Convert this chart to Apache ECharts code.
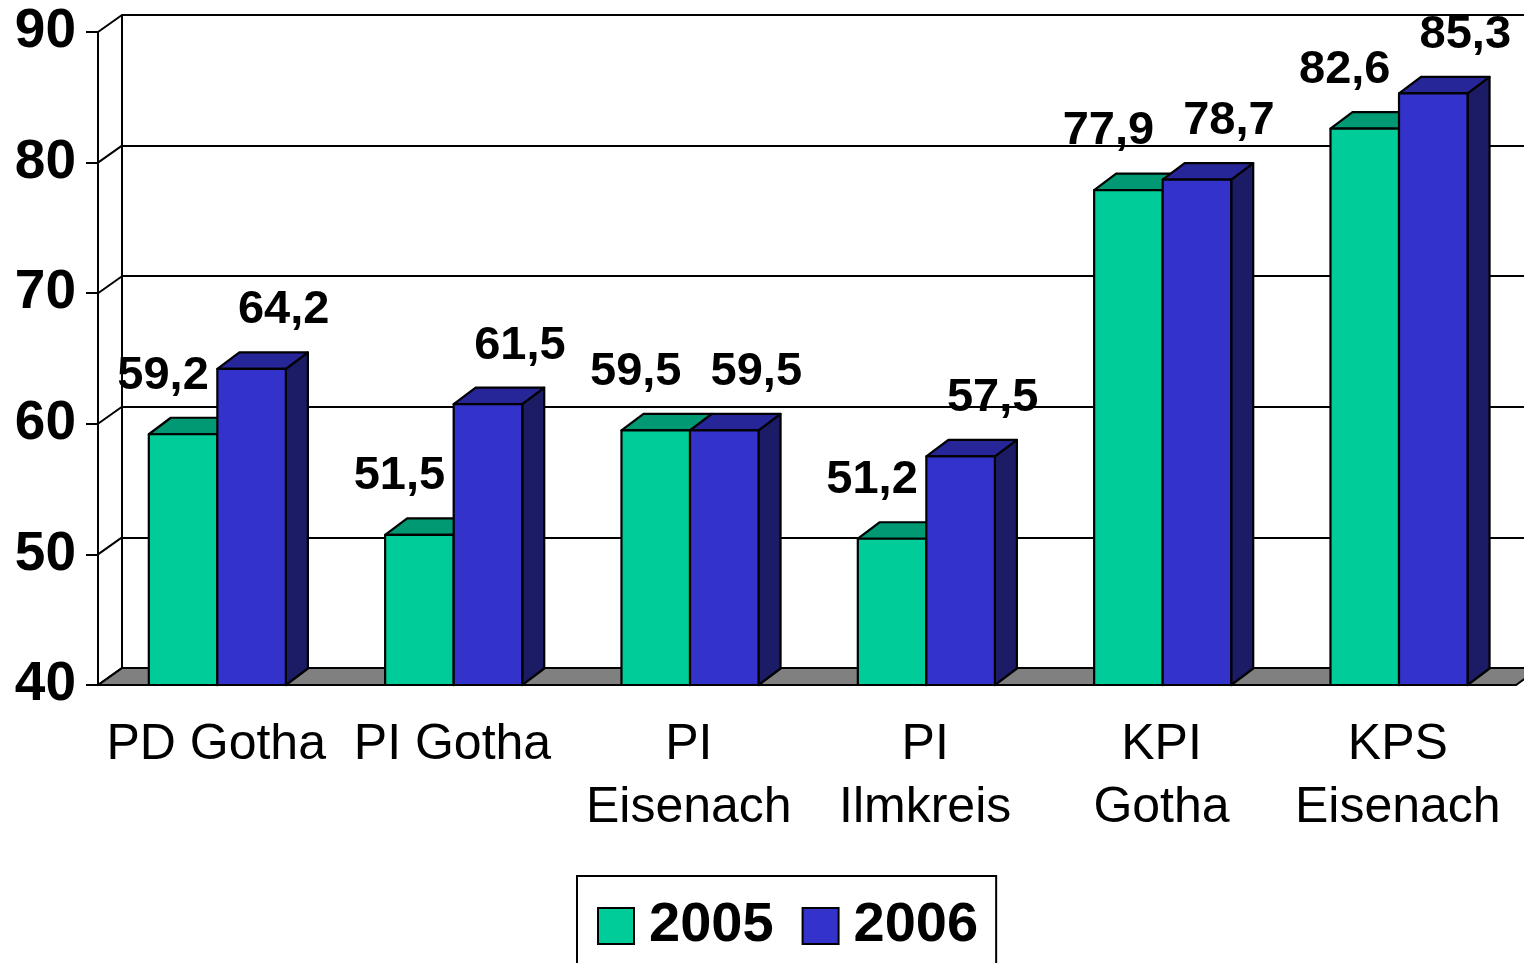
<!DOCTYPE html>
<html>
<head>
<meta charset="utf-8">
<script src="https://cdn.jsdelivr.net/npm/echarts@6/dist/echarts.min.js"></script>
<style>
    html, body { margin: 0; padding: 0; background: #fff; }
    #chart { width: 1524px; height: 963px; }
</style>
</head>
<body>
<div id="chart"></div>
<script>
// 数据
var categories = ['PD Gotha', 'PI Gotha', 'PI\nEisenach', 'PI\nIlmkreis', 'KPI\nGotha', 'KPS\nEisenach'];
var years = ['2005', '2006'];
var values2005 = [59.2, 51.5, 59.5, 51.2, 77.9, 82.6];
var values2006 = [64.2, 61.5, 59.5, 57.5, 78.7, 85.3];
var yTicks = [40, 50, 60, 70, 80, 90];

(function () {
    var FONT = '"Liberation Sans", Arial, sans-serif';
    // 3D 偏移: 墙 / 柱
    var WX = 24, WY = 17;
    var BX = 22, BY = 16.5;

    var colors = [
        { front: '#00CC99', top: '#009973', side: '#006650' },
        { front: '#3333CC', top: '#262699', side: '#1C1C66' }
    ];

    function fmt(v) {
        return v.toFixed(1).replace('.', ',');
    }

    // 地板和左墙斜线
    function renderFrame(params, api) {
        var cs = params.coordSys;
        var y = api.coord([0, api.value(0)])[1];
        var children = [];
        if (params.dataIndex === 0) {
            children.push({
                type: 'polygon',
                shape: { points: [[cs.x, y], [cs.x + cs.width, y], [cs.x + cs.width + WX, y - WY], [cs.x + WX, y - WY]] },
                style: { fill: '#808080', stroke: '#000', lineWidth: 2 }
            });
        }
        children.push({
            type: 'line',
            shape: { x1: cs.x, y1: y, x2: cs.x + WX, y2: y - WY },
            style: { stroke: '#000', lineWidth: 2 }
        });
        return { type: 'group', children: children };
    }

    // 3D 柱
    function makeBarRenderer(idx) {
        var c = colors[idx];
        return function (params, api) {
            var cat = api.value(0);
            var val = api.value(1);
            var base = api.coord([cat, 40]);
            var top = api.coord([cat, val]);
            var band = api.size([1, 0])[0];
            var w = band * 0.29;
            var x0 = base[0] - band / 2 + band * 0.215 + idx * w;
            var ty = top[1], by = base[1];
            var line = { stroke: '#000', lineWidth: 2.2, lineJoin: 'round' };
            var labelX = x0 + w / 2 + (idx === 0 ? -20 : 32);
            return {
                type: 'group',
                children: [
                    {
                        type: 'polygon',
                        shape: { points: [[x0 + w, ty], [x0 + w + BX, ty - BY], [x0 + w + BX, by - BY], [x0 + w, by]] },
                        style: Object.assign({ fill: c.side }, line)
                    },
                    {
                        type: 'polygon',
                        shape: { points: [[x0, ty], [x0 + w, ty], [x0 + w + BX, ty - BY], [x0 + BX, ty - BY]] },
                        style: Object.assign({ fill: c.top }, line)
                    },
                    {
                        type: 'rect',
                        shape: { x: x0, y: ty, width: w, height: by - ty },
                        style: Object.assign({ fill: c.front }, line)
                    },
                    {
                        type: 'text',
                        style: {
                            text: fmt(val), x: labelX, y: ty - BY - 42,
                            align: 'center', verticalAlign: 'middle',
                            font: 'bold 47px ' + FONT, fill: '#000'
                        }
                    }
                ]
            };
        };
    }

    var chart = echarts.init(document.getElementById('chart'));
    var option = {
        animation: false,
        backgroundColor: '#fff',
        grid: [
            { left: 98, top: 32, width: 1418, height: 653 },
            { left: 122, top: 15, width: 1418, height: 653 }
        ],
        legend: {
            left: 577, top: 876,
            padding: [22, 18, 40, 20],
            borderColor: '#000', borderWidth: 2,
            itemWidth: 36, itemHeight: 36, itemGap: 28,
            icon: 'rect',
            textStyle: { fontFamily: FONT, fontWeight: 'bold', fontSize: 56, color: '#000', padding: [0, 0, 0, 10] },
            data: [
                { name: years[0], itemStyle: { color: colors[0].front, borderColor: '#000', borderWidth: 2 } },
                { name: years[1], itemStyle: { color: colors[1].front, borderColor: '#000', borderWidth: 2 } }
            ]
        },
        xAxis: [
            {
                type: 'category', gridIndex: 0, data: categories,
                axisLine: { lineStyle: { color: '#000', width: 2 } },
                axisTick: { length: 12, lineStyle: { color: '#000', width: 2 } },
                axisLabel: { interval: 0, margin: 29, fontFamily: FONT, fontSize: 50, lineHeight: 63, color: '#000' }
            },
            { type: 'category', gridIndex: 1, data: categories, show: false }
        ],
        yAxis: [
            {
                type: 'value', gridIndex: 0, min: 40, max: 90, interval: 10,
                axisLine: { show: true, lineStyle: { color: '#000', width: 2 } },
                axisTick: { show: true, length: 12, lineStyle: { color: '#000', width: 2 } },
                splitLine: { show: false },
                axisLabel: { margin: 22, fontFamily: FONT, fontWeight: 'bold', fontSize: 55, color: '#000' }
            },
            {
                type: 'value', gridIndex: 1, min: 40, max: 90, interval: 10,
                axisLine: { show: true, lineStyle: { color: '#000', width: 2 } },
                axisTick: { show: false },
                axisLabel: { show: false },
                splitLine: { show: true, lineStyle: { color: '#000', width: 2 } }
            }
        ],
        series: [
            {
                type: 'custom', name: 'frame', xAxisIndex: 0, yAxisIndex: 0, z: 1, silent: true,
                renderItem: renderFrame,
                data: yTicks.map(function (t) { return [t]; }),
                encode: { y: 0 }
            },
            {
                type: 'custom', name: years[0], xAxisIndex: 0, yAxisIndex: 0, z: 2,
                itemStyle: { color: colors[0].front },
                renderItem: makeBarRenderer(0),
                data: values2005.map(function (v, i) { return [i, v]; }),
                encode: { x: 0, y: 1 }
            },
            {
                type: 'custom', name: years[1], xAxisIndex: 0, yAxisIndex: 0, z: 3,
                itemStyle: { color: colors[1].front },
                renderItem: makeBarRenderer(1),
                data: values2006.map(function (v, i) { return [i, v]; }),
                encode: { x: 0, y: 1 }
            }
        ]
    };
    chart.setOption(option);
})();
</script>
</body>
</html>
